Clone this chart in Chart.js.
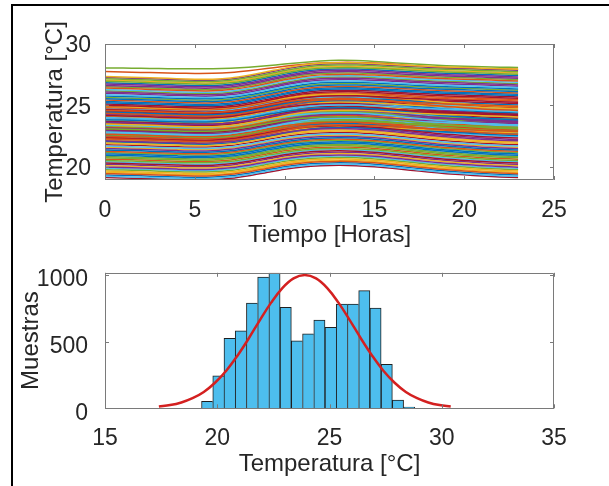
<!DOCTYPE html>
<html>
<head>
<meta charset="utf-8">
<script src="https://cdn.jsdelivr.net/npm/chart.js@4.4.1/dist/chart.umd.min.js"></script>
<style>
  html, body { margin: 0; padding: 0; background: #fff; }
  body { width: 609px; height: 486px; position: relative; overflow: hidden; }
  #marco { position: absolute; left: 11px; top: 4px; width: 640px; height: 520px; border-left: 2px solid #000; border-top: 2px solid #000; }
  canvas { position: absolute; left: 0; }
  #graficoTemperaturas { top: 0; }
  #graficoHistograma { top: 250px; }
</style>
</head>
<body>
<div id="marco"></div>
<canvas id="graficoTemperaturas" width="609" height="250"></canvas>
<canvas id="graficoHistograma" width="609" height="236"></canvas>
<script>
// Horas del dia
var horas = [0, 1, 2, 3, 4, 5, 6, 7, 8, 9, 10, 11, 12, 13, 14, 15, 16, 17, 18, 19, 20, 21, 22, 23];
// Variacion diaria respecto a la hora 0 (curvas bajas y curvas altas)
var perfilBajo = [0, -0.03, -0.07, -0.12, -0.16, -0.19, -0.17, -0.06, 0.15, 0.42, 0.68, 0.86, 0.96, 1.00, 0.97, 0.88, 0.75, 0.60, 0.45, 0.32, 0.22, 0.12, 0.05, 0.00];
var perfilAlto = [0, -0.04, -0.08, -0.13, -0.18, -0.22, -0.22, -0.12, 0.10, 0.38, 0.68, 0.93, 1.08, 1.12, 1.12, 1.06, 0.98, 0.90, 0.83, 0.77, 0.73, 0.68, 0.63, 0.58];
// Temperatura a la hora 0 de cada curva
var inicioBajo = [21.35, 19.63, 23.07, 20.28, 24.58, 22.10, 19.20, 23.82, 21.89, 20.71, 24.15, 22.64, 19.95, 23.39, 21.03, 24.90, 20.49, 22.32, 19.42, 23.61, 21.67, 24.36, 20.06, 22.86, 19.10, 23.18, 21.46, 24.68, 20.92, 22.00, 19.74, 23.93, 21.24, 24.25, 20.38, 22.53, 19.52, 23.50, 21.78, 24.79, 20.17, 22.75, 19.31, 23.29, 21.14, 24.47, 20.60, 22.21, 19.85, 23.72, 21.57, 24.04, 20.81, 22.43, 22.96];
var inicioAlto = [24.34, 26.62, 22.81, 25.53, 23.47, 27.16, 24.99, 22.27, 26.08, 23.90, 25.21, 27.35, 22.60, 24.66, 26.40, 23.14, 25.86, 22.05, 24.12, 26.95, 23.68, 25.42, 22.92, 26.29, 24.44, 27.05, 23.25, 25.10, 22.49, 26.73, 24.01, 25.75, 22.16, 26.51, 23.57, 24.88, 27.27, 22.70, 25.31, 23.79, 26.18, 24.55, 22.38, 25.97, 23.36, 26.84, 24.23, 25.64, 23.03, 24.77];
// Dos curvas sueltas por encima de la banda
var curvaSuperiorA = [28.05, 28.04, 28.02, 28.00, 27.98, 27.97, 27.98, 28.02, 28.10, 28.22, 28.36, 28.50, 28.62, 28.68, 28.66, 28.58, 28.48, 28.38, 28.30, 28.23, 28.18, 28.14, 28.11, 28.08];
var curvaSuperiorB = [27.75, 27.72, 27.68, 27.65, 27.62, 27.60, 27.61, 27.68, 27.82, 28.00, 28.18, 28.33, 28.44, 28.50, 28.50, 28.45, 28.36, 28.25, 28.15, 28.07, 28.02, 27.98, 27.96, 27.94];
var ticksHoras = [0, 5, 10, 15, 20, 25];
var ticksTemp = [20, 25, 30];

// Histograma
var centrosBins = [19.55, 20.05, 20.55, 21.05, 21.55, 22.05, 22.55, 23.05, 23.55, 24.05, 24.55, 25.05, 25.55, 26.05, 26.55, 27.05, 27.55, 28.05, 28.55];
var muestras = [52, 243, 526, 581, 789, 985, 1017, 757, 506, 558, 663, 608, 782, 782, 883, 752, 330, 62, 10];
// Curva normal ajustada (roja)
var ajusteX = [17.4, 17.9, 18.4, 18.9, 19.4, 19.9, 20.4, 20.9, 21.4, 21.9, 22.4, 22.9, 23.4, 23.9, 24.4, 24.9, 25.4, 25.9, 26.4, 26.9, 27.4, 27.9, 28.4, 28.9, 29.4, 29.9, 30.4];
var ajusteY = [13, 24, 44, 76, 123, 192, 282, 395, 524, 662, 793, 902, 975, 1000, 975, 902, 793, 662, 524, 395, 282, 192, 123, 76, 44, 24, 13];
var ticksHistX = [15, 20, 25, 30, 35];
var ticksMuestras = [0, 500, 1000];

var coloresMatlab = ['#0072BD', '#D95319', '#EDB120', '#7E2F8E', '#77AC30', '#4DBEEE', '#A2142F'];
var colorTexto = '#262626';
Chart.defaults.font.family = "'Liberation Sans', Arial, sans-serif";
Chart.defaults.color = colorTexto;

// Caja y marcas hacia dentro, estilo MATLAB
const cajaMatlab = {
  id: 'cajaMatlab',
  afterDatasetsDraw(chart) {
    const { ctx, chartArea: a, scales: { x, y } } = chart;
    const L = 4;
    ctx.save();
    ctx.strokeStyle = '#7a7a7a';
    ctx.lineWidth = 1;
    ctx.beginPath();
    ctx.rect(Math.round(a.left) + 0.5, Math.round(a.top) + 0.5, Math.round(a.right - a.left) - 1, Math.round(a.bottom - a.top) - 1);
    x.ticks.forEach(t => {
      const px = Math.round(x.getPixelForValue(t.value)) + 0.5;
      ctx.moveTo(px, a.bottom); ctx.lineTo(px, a.bottom - L);
      ctx.moveTo(px, a.top); ctx.lineTo(px, a.top + L);
    });
    y.ticks.forEach(t => {
      const py = Math.round(y.getPixelForValue(t.value)) + 0.5;
      ctx.moveTo(a.left, py); ctx.lineTo(a.left + L, py);
      ctx.moveTo(a.right, py); ctx.lineTo(a.right - L, py);
    });
    ctx.stroke();
    ctx.restore();
  }
};

function fijarTicks(valores) {
  return function (scale) { scale.ticks = valores.map(v => ({ value: v })); };
}
var textoTick = v => String(v);

// Curvas de temperatura
var datasetsTemp = [];
function agregarCurva(valores, color) {
  datasetsTemp.push({
    data: horas.map((h, i) => ({ x: h, y: valores[i] })),
    borderColor: color,
    borderWidth: 1.5,
    pointRadius: 0,
    tension: 0.2,
    fill: false
  });
}
var n = Math.max(inicioBajo.length, inicioAlto.length);
for (var i = 0; i < n; i++) {
  if (i < inicioBajo.length) {
    agregarCurva(perfilBajo.map(p => inicioBajo[i] + p), coloresMatlab[datasetsTemp.length % 7]);
  }
  if (i < inicioAlto.length) {
    agregarCurva(perfilAlto.map(p => inicioAlto[i] + p), coloresMatlab[datasetsTemp.length % 7]);
  }
}
agregarCurva(curvaSuperiorB, '#D95319');
agregarCurva(curvaSuperiorA, '#77AC30');

new Chart(document.getElementById('graficoTemperaturas'), {
  type: 'line',
  data: { datasets: datasetsTemp },
  plugins: [cajaMatlab],
  options: {
    responsive: false,
    animation: false,
    events: [],
    layout: { padding: { left: 0, right: 55, top: 44, bottom: 0 } },
    plugins: { legend: { display: false }, tooltip: { enabled: false } },
    scales: {
      x: {
        type: 'linear', min: 0, max: 25,
        afterBuildTicks: fijarTicks(ticksHoras),
        afterFit: s => { s.height = 70; },
        grid: { display: false }, border: { display: false },
        ticks: { font: { size: 23 }, color: colorTexto, padding: 9, maxRotation: 0, autoSkip: false, callback: textoTick },
        title: { display: true, text: 'Tiempo [Horas]', font: { size: 24 }, color: colorTexto, padding: { top: 0, bottom: 0 } }
      },
      y: {
        type: 'linear', min: 18.9, max: 30,
        afterBuildTicks: fijarTicks(ticksTemp),
        afterFit: s => { s.width = 105; },
        grid: { display: false }, border: { display: false },
        ticks: { font: { size: 23 }, color: colorTexto, padding: 6, labelOffset: 2, callback: textoTick },
        title: { display: true, text: 'Temperatura [°C]', font: { size: 24 }, color: colorTexto, padding: { top: 40.6, bottom: 0 } }
      }
    }
  }
});

// Histograma con ajuste normal
new Chart(document.getElementById('graficoHistograma'), {
  type: 'bar',
  data: {
    datasets: [{
      type: 'line',
      order: 0,
      data: ajusteX.map((x, i) => ({ x: x, y: ajusteY[i] })),
      borderColor: '#d42020',
      borderWidth: 2.5,
      pointRadius: 0,
      tension: 0.4,
      fill: false
    }, {
      type: 'bar',
      order: 1,
      data: centrosBins.map((c, i) => ({ x: c, y: muestras[i] })),
      backgroundColor: '#4DBEEE',
      borderColor: '#1f1f1f',
      borderWidth: ctx => {
        const j = ctx.dataIndex;
        const sig = j + 1 < muestras.length ? muestras[j + 1] : 0;
        return { top: 1, left: 1, right: sig < muestras[j] ? 1 : 0, bottom: 0 };
      },
      borderSkipped: false,
      barPercentage: 1,
      categoryPercentage: 1
    }]
  },
  plugins: [cajaMatlab],
  options: {
    responsive: false,
    animation: false,
    events: [],
    layout: { padding: { left: 0, right: 55, top: 21.7, bottom: 0 } },
    plugins: { legend: { display: false }, tooltip: { enabled: false } },
    scales: {
      x: {
        type: 'linear', min: 15, max: 35, offset: false,
        afterBuildTicks: fijarTicks(ticksHistX),
        afterFit: s => { s.height = 77.7; },
        grid: { display: false }, border: { display: false },
        ticks: { font: { size: 23 }, color: colorTexto, padding: 9, maxRotation: 0, autoSkip: false, callback: textoTick },
        title: { display: true, text: 'Temperatura [°C]', font: { size: 24 }, color: colorTexto, padding: { top: 0, bottom: 7.2 } }
      },
      y: {
        type: 'linear', min: 0, max: 1017,
        afterBuildTicks: fijarTicks(ticksMuestras),
        afterFit: s => { s.width = 105; },
        grid: { display: false }, border: { display: false },
        ticks: { font: { size: 23 }, color: colorTexto, padding: 9, labelOffset: 5, callback: textoTick },
        title: { display: true, text: 'Muestras', font: { size: 24 }, color: colorTexto, padding: { top: 16.6, bottom: 0 } }
      }
    }
  }
});
</script>
</body>
</html>
